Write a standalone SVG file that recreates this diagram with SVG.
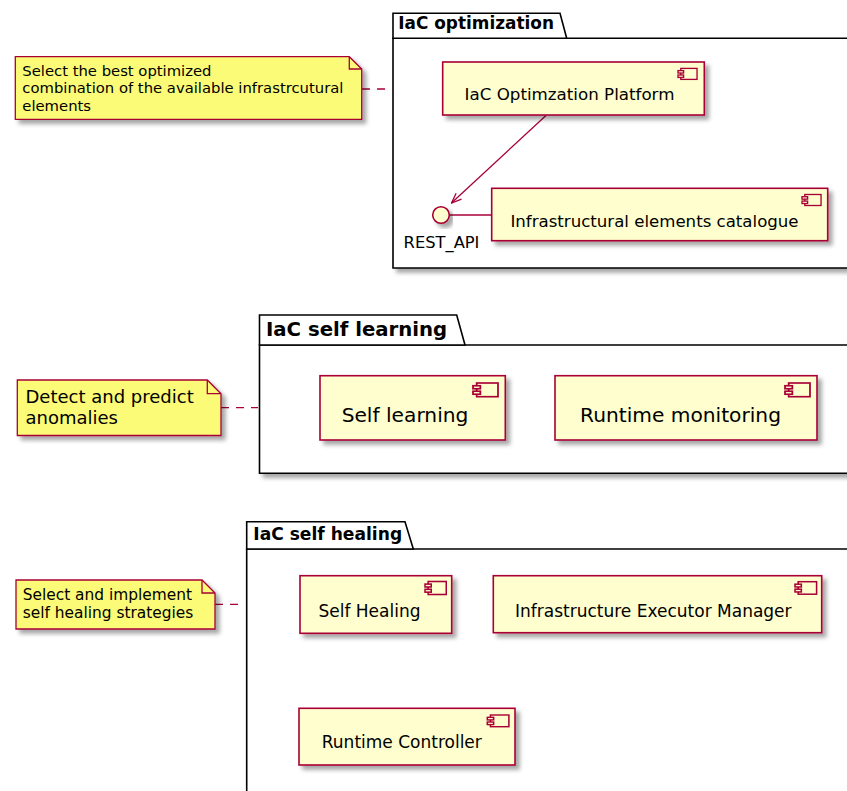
<svg xmlns="http://www.w3.org/2000/svg" xmlns:xlink="http://www.w3.org/1999/xlink" width="847" height="791" viewBox="0 0 847 791">
<style>
text{font-family:"DejaVu Sans","Liberation Sans",sans-serif;fill:#000;}
.pkg{fill:#fff;stroke:#000;stroke-width:1.6;}
.ptitle{font-weight:bold;}
.comp{fill:#FEFECE;stroke:#A80036;stroke-width:1.6;filter:url(#sh);}
.note{fill:#FBFB77;stroke:#A80036;stroke-width:1.3;filter:url(#sh);}
.fold{fill:none;stroke:#A80036;stroke-width:1.3;}
.dash{stroke:#A80036;stroke-width:1.3;stroke-dasharray:8,7;fill:none;}
.conn{stroke:#A80036;stroke-width:1.3;fill:none;}
.ic{fill:#FEFECE;stroke:#A80036;stroke-width:1.2;}
</style>
<defs>
<filter id="sh" x="-10%" y="-10%" width="130%" height="140%">
<feDropShadow dx="4" dy="4" stdDeviation="2" flood-color="#000" flood-opacity="0.35"/>
</filter>
<g id="icon">
<rect class="ic" x="2.5" y="0" width="14.5" height="10"/>
<rect class="ic" x="0" y="2" width="5" height="2.2"/>
<rect class="ic" x="0" y="6" width="5" height="2.2"/>
</g>
<marker id="arr" viewBox="0 0 12 10" refX="11" refY="5" markerWidth="12" markerHeight="10" markerUnits="userSpaceOnUse" orient="auto">
<path d="M1,1 L11,5 L1,9" fill="none" stroke="#A80036" stroke-width="1.3"/>
</marker>
</defs>

<!-- Packages -->
<g id="pkg-optimization">
<path class="pkg" style="filter:url(#sh)" d="M393,38.3 L870,38.3 L870,268 L393,268 Z"/>
<path class="pkg" d="M393,38.3 L393,13.3 L560,13.3 L566.7,38.3 Z"/>
<text class="ptitle" x="398.3" y="29.3" font-size="16.9">IaC optimization</text>
</g>
<g id="pkg-selflearning">
<path class="pkg" style="filter:url(#sh)" d="M259.5,345 L870,345 L870,473.3 L259.5,473.3 Z"/>
<path class="pkg" d="M259.5,345 L259.5,315 L456.7,315 L465,345 Z"/>
<text class="ptitle" x="266" y="336" font-size="19.7">IaC self learning</text>
</g>
<g id="pkg-selfhealing">
<path class="pkg" style="filter:url(#sh)" d="M246.7,549 L870,549 L870,820 L246.7,820 Z"/>
<path class="pkg" d="M246.7,549 L246.7,521.7 L405,521.7 L413.3,549 Z"/>
<text class="ptitle" x="253.3" y="540" font-size="17.1">IaC self healing</text>
</g>

<!-- Connectors -->
<g id="connectors">
<line class="dash" x1="362" y1="89" x2="389" y2="89"/>
<line class="dash" x1="221" y1="407.7" x2="258" y2="407.7"/>
<line class="dash" x1="215" y1="604.3" x2="245" y2="604.3"/>
<line class="conn" x1="546" y1="115.5" x2="451.5" y2="203" marker-end="url(#arr)"/>
<line class="conn" x1="450" y1="215" x2="492" y2="215"/>
</g>

<!-- Notes -->
<g id="note-optimization">
<path class="note" d="M15.3,56.7 L349.3,56.7 L361.7,69 L361.7,119.3 L15.3,119.3 Z"/>
<path class="fold" d="M349.3,56.7 L349.3,69 L361.7,69"/>
<text x="22.3" y="76" font-size="14.8">Select the best optimized</text>
<text x="22.3" y="93.3" font-size="14.8">combination of the available infrastrcutural</text>
<text x="22.3" y="110.6" font-size="14.8">elements</text>
</g>
<g id="note-selflearning">
<path class="note" d="M17.3,380 L207.3,380 L221,393.7 L221,435.5 L17.3,435.5 Z"/>
<path class="fold" d="M207.3,380 L207.3,393.7 L221,393.7"/>
<text x="25.5" y="403.3" font-size="18">Detect and predict</text>
<text x="25.5" y="424" font-size="18">anomalies</text>
</g>
<g id="note-selfhealing">
<path class="note" d="M16,580 L202,580 L215,593 L215,629 L16,629 Z"/>
<path class="fold" d="M202,580 L202,593 L215,593"/>
<text x="22.7" y="600" font-size="15.4">Select and implement</text>
<text x="22.7" y="617.7" font-size="15.4">self healing strategies</text>
</g>

<!-- Components: IaC optimization -->
<g id="comp-platform">
<rect class="comp" x="442.7" y="62" width="261.6" height="53"/>
<use xlink:href="#icon" transform="translate(678,68.4) scale(1.12,1.1)"/>
<text x="569.5" y="100" font-size="16.7" text-anchor="middle">IaC Optimzation Platform</text>
</g>
<g id="iface-rest">
<circle cx="441" cy="215" r="8.3" fill="#FEFECE" stroke="#A80036" stroke-width="1.6" style="filter:url(#sh)"/>
<text x="441.5" y="248" font-size="16.3" text-anchor="middle">REST_API</text>
</g>
<g id="comp-catalogue">
<rect class="comp" x="491.7" y="188.3" width="336" height="52.4"/>
<use xlink:href="#icon" transform="translate(802,194.5) scale(1.12,1.1)"/>
<text x="654.5" y="226.5" font-size="16.6" text-anchor="middle">Infrastructural elements catalogue</text>
</g>

<!-- Components: IaC self learning -->
<g id="comp-selflearning">
<rect class="comp" x="320" y="375.7" width="185.3" height="64.3"/>
<use xlink:href="#icon" transform="translate(473,383) scale(1.47,1.37)"/>
<text x="405" y="422" font-size="20.2" text-anchor="middle">Self learning</text>
</g>
<g id="comp-runtimemonitoring">
<rect class="comp" x="555" y="375.7" width="262" height="64.3"/>
<use xlink:href="#icon" transform="translate(785,383) scale(1.47,1.37)"/>
<text x="680.5" y="422" font-size="20.2" text-anchor="middle">Runtime monitoring</text>
</g>

<!-- Components: IaC self healing -->
<g id="comp-selfhealing">
<rect class="comp" x="300" y="575.7" width="151.7" height="57.6"/>
<use xlink:href="#icon" transform="translate(425,581.5) scale(1.25,1.3)"/>
<text x="369.5" y="616.7" font-size="17" text-anchor="middle">Self Healing</text>
</g>
<g id="comp-executor">
<rect class="comp" x="493.3" y="575.7" width="328.4" height="57"/>
<use xlink:href="#icon" transform="translate(795,581.7) scale(1.27,1.25)"/>
<text x="653.3" y="616.7" font-size="17" text-anchor="middle">Infrastructure Executor Manager</text>
</g>
<g id="comp-runtimecontroller">
<rect class="comp" x="299" y="708.3" width="216" height="56.7"/>
<use xlink:href="#icon" transform="translate(487.3,715) scale(1.27,1.17)"/>
<text x="401.8" y="748.3" font-size="17" text-anchor="middle">Runtime Controller</text>
</g>
</svg>
